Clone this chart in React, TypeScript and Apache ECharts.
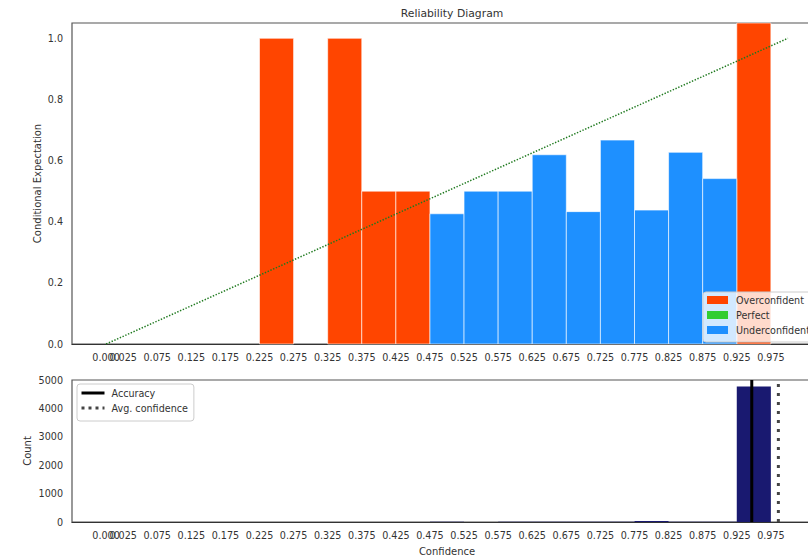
import React, { useEffect, useRef } from "react";
import * as echarts from "echarts";

// ---- data ----
const binCenters = [0.25, 0.35, 0.4, 0.45, 0.5, 0.55, 0.6, 0.65, 0.7, 0.75, 0.8, 0.85, 0.9, 0.95];
const accuracy = [1.0, 1.0, 0.5, 0.5, 0.426, 0.5, 0.5, 0.619, 0.433, 0.667, 0.438, 0.627, 0.541, 1.1];
const counts = [1, 1, 2, 2, 7, 4, 6, 13, 7, 9, 32, 8, 13, 4770];
const xTickValues = [0, 0.025, 0.075, 0.125, 0.175, 0.225, 0.275, 0.325, 0.375, 0.425, 0.475, 0.525, 0.575, 0.625, 0.675, 0.725, 0.775, 0.825, 0.875, 0.925, 0.975];
const yTickValues = [0, 0.2, 0.4, 0.6, 0.8, 1.0];
const perfectLine = [[0, 0], [1, 1]];
const avgAccuracy = 0.947;
const avgConfidence = 0.986;
const countMax = 5000;

const BIN_HALF = 0.025;
const FONT = "DejaVu Sans";
const TXT = "#333";

const overData = binCenters.map((c, i) => [c, accuracy[i]]).filter((d) => d[1] > d[0]);
const underData = binCenters.map((c, i) => [c, accuracy[i]]).filter((d) => d[1] <= d[0]);
const countData = binCenters.map((c, i) => [c, counts[i]]);

function makeRender(stroke: string) {
  return (params: any, api: any) => {
    const c = api.value(0);
    const h = api.value(1);
    const p0 = api.coord([c - BIN_HALF, 0]);
    const p1 = api.coord([c + BIN_HALF, h]);
    const cs = params.coordSys;
    const rect = echarts.graphic.clipRectByRect(
      { x: p0[0], y: p1[1], width: p1[0] - p0[0], height: p0[1] - p1[1] },
      { x: cs.x, y: cs.y, width: cs.width, height: cs.height }
    );
    if (!rect) return null;
    return {
      type: "rect",
      shape: rect,
      style: { fill: api.visual("color"), stroke, lineWidth: 1 },
    };
  };
}

export default function App() {
  const ref = useRef<HTMLDivElement>(null);
  useEffect(() => {
    const chart = echarts.init(ref.current!, null, { renderer: "svg" });
    const labelBase = {
      formatter: (v: number) => v.toFixed(3),
      fontSize: 9.6,
      color: TXT,
      fontFamily: FONT,
      margin: 8,
      hideOverlap: false,
      showMinLabel: true,
      showMaxLabel: true,
    };
    const xAxisBase = {
      type: "value",
      min: -0.05,
      max: 1.05,
      position: "bottom",
      splitLine: { show: false },
      axisTick: { show: false },
    };
    const mainX = (gridIndex: number) => ({
      ...xAxisBase,
      gridIndex,
      axisLine: { show: true, onZero: false, lineStyle: { color: "#333", width: 1.2 } },
      axisLabel: { ...labelBase, customValues: xTickValues.slice(1) },
    });
    const auxX = (gridIndex: number) => ({
      ...xAxisBase,
      gridIndex,
      axisLine: { show: false },
      axisLabel: { ...labelBase, customValues: xTickValues.slice(0, 1) },
    });
    const hiddenSymbol = { opacity: 0, borderWidth: 0, color: "transparent" };
    chart.setOption({
      animation: false,
      textStyle: { fontFamily: FONT },
      title: {
        text: "Reliability Diagram",
        left: 447,
        top: 3,
        textAlign: "center",
        textStyle: { fontSize: 10.8, fontWeight: "normal", color: TXT, fontFamily: FONT },
      },
      grid: [
        { left: 72, top: 23, width: 750, height: 321, show: true, borderColor: "#555", borderWidth: 1.2, backgroundColor: "#fff", outerBoundsMode: "none", containLabel: false },
        { left: 72, top: 380, width: 750, height: 142, show: true, borderColor: "#555", borderWidth: 1.2, backgroundColor: "#fff", outerBoundsMode: "none", containLabel: false },
      ],
      xAxis: [
        mainX(0),
        {
          ...mainX(1),
          name: "Confidence",
          nameLocation: "middle",
          nameGap: 24,
          nameMoveOverlap: false,
          nameTextStyle: { fontSize: 10, color: TXT, fontFamily: FONT },
        },
        auxX(0),
        auxX(1),
      ],
      yAxis: [
        {
          type: "value",
          gridIndex: 0,
          min: 0,
          max: 1.05,
          splitLine: { show: false },
          axisTick: { show: false },
          axisLine: { show: false },
          axisLabel: {
            customValues: yTickValues,
            formatter: (v: number) => v.toFixed(1),
            fontSize: 9.6,
            color: TXT,
            fontFamily: FONT,
            margin: 9,
          },
          name: "Conditional Expectation",
          nameLocation: "middle",
          nameGap: 30,
          nameMoveOverlap: false,
          nameTextStyle: { fontSize: 10, color: TXT, fontFamily: FONT },
        },
        {
          type: "value",
          gridIndex: 1,
          min: 0,
          max: countMax,
          interval: 1000,
          splitLine: { show: false },
          axisTick: { show: false },
          axisLine: { show: false },
          axisLabel: { formatter: (v: number) => String(v), fontSize: 9.6, color: TXT, fontFamily: FONT, margin: 9 },
          name: "Count",
          nameLocation: "middle",
          nameGap: 40,
          nameMoveOverlap: false,
          nameTextStyle: { fontSize: 10, color: TXT, fontFamily: FONT },
        },
      ],
      legend: [
        {
          data: [
            { name: "Overconfident", icon: "rect" },
            { name: "Perfect", icon: "rect" },
            { name: "Underconfident", icon: "rect" },
          ],
          orient: "vertical",
          left: 703,
          top: 292,
          itemWidth: 21,
          itemHeight: 8,
          itemGap: 5,
          padding: [3, 6, 7, 4],
          backgroundColor: "rgba(255,255,255,0.8)",
          borderColor: "#ccc",
          borderWidth: 1,
          borderRadius: 3,
          selectedMode: false,
          textStyle: { fontSize: 9.6, lineHeight: 10, color: TXT, fontFamily: FONT, padding: [0, 0, 0, 3] },
        },
        {
          data: [
            { name: "Accuracy", lineStyle: { width: 3, color: "#000" }, itemStyle: hiddenSymbol },
            { name: "Avg. confidence", lineStyle: { width: 3, color: "#444", type: [3, 4] }, itemStyle: hiddenSymbol },
          ],
          orient: "vertical",
          left: 77,
          top: 384,
          itemWidth: 23,
          itemHeight: 10,
          itemGap: 5,
          padding: [4, 6, 8, 3],
          backgroundColor: "rgba(255,255,255,0.8)",
          borderColor: "#ccc",
          borderWidth: 1,
          borderRadius: 3,
          selectedMode: false,
          textStyle: { fontSize: 9.6, lineHeight: 10, color: TXT, fontFamily: FONT, padding: [0, 0, 0, 2] },
        },
      ],
      series: [
        {
          type: "custom",
          name: "Overconfident",
          xAxisIndex: 0,
          yAxisIndex: 0,
          itemStyle: { color: "#FF4500" },
          renderItem: makeRender("rgba(255,255,255,0.6)"),
          data: overData,
          silent: true,
        },
        {
          type: "custom",
          name: "Underconfident",
          xAxisIndex: 0,
          yAxisIndex: 0,
          itemStyle: { color: "#1E90FF" },
          renderItem: makeRender("rgba(255,255,255,0.6)"),
          data: underData,
          silent: true,
        },
        {
          type: "custom",
          name: "Perfect",
          xAxisIndex: 0,
          yAxisIndex: 0,
          itemStyle: { color: "#32CD32" },
          renderItem: makeRender("none"),
          data: [],
          silent: true,
        },
        {
          type: "line",
          name: "diag",
          xAxisIndex: 0,
          yAxisIndex: 0,
          data: perfectLine,
          symbol: "none",
          lineStyle: { type: [1.4, 1.6], color: "#1f7a1f", width: 1.5 },
          silent: true,
          z: 5,
        },
        {
          type: "custom",
          name: "Count",
          xAxisIndex: 1,
          yAxisIndex: 1,
          itemStyle: { color: "#191970" },
          renderItem: makeRender("none"),
          data: countData,
          silent: true,
        },
        {
          type: "line",
          name: "Accuracy",
          xAxisIndex: 1,
          yAxisIndex: 1,
          data: [[avgAccuracy, 0], [avgAccuracy, countMax]],
          symbol: "none",
          lineStyle: { color: "#000", width: 3 },
          silent: true,
          z: 5,
        },
        {
          type: "line",
          name: "Avg. confidence",
          xAxisIndex: 1,
          yAxisIndex: 1,
          data: [[avgConfidence, 0], [avgConfidence, countMax]],
          symbol: "none",
          lineStyle: { color: "#444", width: 3, type: [3, 6] },
          silent: true,
          z: 5,
        },
      ],
    });
    return () => chart.dispose();
  }, []);
  return (
    <div
      ref={ref}
      style={{ position: "fixed", left: 0, top: 0, width: 808, height: 557, background: "#fff" }}
    />
  );
}
